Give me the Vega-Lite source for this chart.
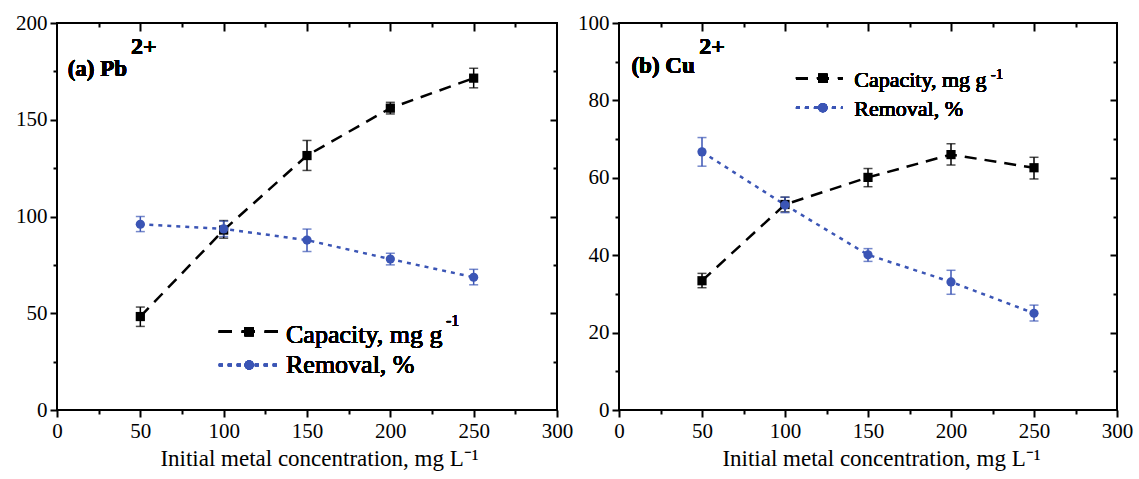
{
  "$schema": "https://vega.github.io/schema/vega-lite/v6.json",
  "background": "white",
  "padding": {"left": 14, "top": 11, "right": 2, "bottom": 2},
  "spacing": 2,
  "datasets": {
    "pb": [
      {"series": "Capacity", "conc": 50, "value": 48.3, "lo": 43.2, "hi": 53.2},
      {"series": "Capacity", "conc": 100, "value": 93.0, "lo": 88.8, "hi": 97.9},
      {"series": "Capacity", "conc": 150, "value": 131.5, "lo": 123.8, "hi": 139.3},
      {"series": "Capacity", "conc": 200, "value": 156.0, "lo": 153.0, "hi": 159.0},
      {"series": "Capacity", "conc": 250, "value": 171.5, "lo": 166.5, "hi": 176.6},
      {"series": "Removal", "conc": 50, "value": 96.0, "lo": 92.2, "hi": 100.0},
      {"series": "Removal", "conc": 100, "value": 93.6, "lo": 89.6, "hi": 97.6},
      {"series": "Removal", "conc": 150, "value": 87.8, "lo": 81.9, "hi": 93.5},
      {"series": "Removal", "conc": 200, "value": 78.0, "lo": 75.0, "hi": 81.0},
      {"series": "Removal", "conc": 250, "value": 68.6, "lo": 64.7, "hi": 72.7}
    ],
    "cu": [
      {"series": "Capacity", "conc": 50, "value": 33.4, "lo": 31.6, "hi": 35.3},
      {"series": "Capacity", "conc": 100, "value": 53.1, "lo": 51.2, "hi": 55.0},
      {"series": "Capacity", "conc": 150, "value": 60.1, "lo": 57.7, "hi": 62.4},
      {"series": "Capacity", "conc": 200, "value": 66.0, "lo": 63.3, "hi": 68.8},
      {"series": "Capacity", "conc": 250, "value": 62.6, "lo": 59.7, "hi": 65.3},
      {"series": "Removal", "conc": 50, "value": 66.7, "lo": 63.0, "hi": 70.4},
      {"series": "Removal", "conc": 100, "value": 53.0, "lo": 51.0, "hi": 55.0},
      {"series": "Removal", "conc": 150, "value": 40.1, "lo": 38.4, "hi": 41.7},
      {"series": "Removal", "conc": 200, "value": 33.1, "lo": 29.9, "hi": 36.1},
      {"series": "Removal", "conc": 250, "value": 25.0, "lo": 23.0, "hi": 27.1}
    ]
  },
  "hconcat": [
    {
      "width": 500,
      "height": 387,
      "data": {"name": "pb"},
      "resolve": {"axis": {"x": "independent", "y": "independent"}},
      "layer": [
        {
          "mark": {"type": "errorbar", "ticks": {"size": 9, "thickness": 1.5}, "rule": {"strokeWidth": 1.5}},
          "encoding": {
            "x": {"field": "conc", "type": "quantitative", "scale": {"domain": [0, 300], "nice": false},
              "axis": {"orient": "bottom", "title": "Initial metal concentration, mg L⁻¹", "values": [0,50,100,150,200,250,300], "tickSize": 7, "labelPadding": 3, "titlePadding": 6, "titleX": 262}},
            "y": {"field": "lo", "type": "quantitative", "scale": {"domain": [0, 200], "nice": false},
              "axis": {"orient": "left", "title": null, "values": [0,50,100,150,200], "tickSize": 7, "labelPadding": 3}},
            "y2": {"field": "hi"},
            "color": {"field": "series", "type": "nominal", "scale": {"domain": ["Capacity", "Removal"], "range": ["#000000", "#3b55b5"]}, "legend": null}
          }
        },
        {
          "mark": {"type": "line", "strokeWidth": 2.5},
          "encoding": {
            "x": {"field": "conc", "type": "quantitative",
              "axis": {"orient": "bottom", "title": null, "labels": false, "values": [25,75,125,175,225,275], "tickSize": 4}},
            "y": {"field": "value", "type": "quantitative",
              "axis": {"orient": "left", "title": null, "labels": false, "values": [25,75,125,175], "tickSize": 4}},
            "color": {"field": "series", "type": "nominal", "legend": null},
            "strokeDash": {"field": "series", "type": "nominal", "scale": {"domain": ["Capacity", "Removal"], "range": [[12, 8], [4, 5]]}, "legend": null}
          }
        },
        {
          "mark": {"type": "point", "filled": true, "opacity": 1, "size": 85},
          "encoding": {
            "x": {"field": "conc", "type": "quantitative",
              "axis": {"orient": "top", "title": null, "labels": false, "values": [50,100,150,200,250], "tickSize": 8, "offset": -8}},
            "y": {"field": "value", "type": "quantitative",
              "axis": {"orient": "right", "title": null, "labels": false, "values": [50,100,150], "tickSize": 7, "offset": -7}},
            "color": {"field": "series", "type": "nominal", "legend": null},
            "shape": {"field": "series", "type": "nominal", "scale": {"domain": ["Capacity", "Removal"], "range": ["square", "circle"]}, "legend": null}
          }
        },
        {
          "mark": {"type": "rule", "color": "#000000", "strokeWidth": 2.5, "strokeDash": [13, 10]},
          "encoding": {
            "x": {"datum": 97.1, "type": "quantitative",
              "axis": {"orient": "top", "title": null, "labels": false, "values": [25,75,125,175,225,275], "tickSize": 4, "offset": -4}},
            "x2": {"datum": 133.1},
            "y": {"datum": 40.5, "type": "quantitative",
              "axis": {"orient": "right", "title": null, "labels": false, "values": [25,75,125,175], "tickSize": 4, "offset": -4}}
          }
        },
        {
          "mark": {"type": "point", "shape": "square", "filled": true, "opacity": 1, "size": 85, "color": "#000000"},
          "encoding": {"x": {"datum": 115.3, "type": "quantitative", "axis": null}, "y": {"datum": 40.5, "type": "quantitative", "axis": null}}
        },
        {
          "mark": {"type": "rule", "color": "#3b55b5", "strokeWidth": 2.5, "strokeDash": [4, 5]},
          "encoding": {"x": {"datum": 97.1, "type": "quantitative", "axis": null}, "x2": {"datum": 133.1}, "y": {"datum": 23.2, "type": "quantitative", "axis": null}}
        },
        {
          "mark": {"type": "point", "shape": "circle", "filled": true, "opacity": 1, "size": 85, "color": "#3b55b5"},
          "encoding": {"x": {"datum": 115.3, "type": "quantitative", "axis": null}, "y": {"datum": 23.2, "type": "quantitative", "axis": null}}
        },
        {
          "mark": {"type": "text", "text": "Capacity, mg g", "align": "left", "baseline": "alphabetic", "fontSize": 26, "color": "#000000"},
          "encoding": {"x": {"datum": 137.4, "type": "quantitative", "axis": null}, "y": {"datum": 34.6, "type": "quantitative", "axis": null}}
        },
        {
          "mark": {"type": "text", "text": "-1", "align": "left", "baseline": "alphabetic", "fontSize": 16, "color": "#000000"},
          "encoding": {"x": {"datum": 233.4, "type": "quantitative", "axis": null}, "y": {"datum": 43.4, "type": "quantitative", "axis": null}}
        },
        {
          "mark": {"type": "text", "text": "Removal, %", "align": "left", "baseline": "alphabetic", "fontSize": 26, "color": "#000000"},
          "encoding": {"x": {"datum": 137.4, "type": "quantitative", "axis": null}, "y": {"datum": 19.3, "type": "quantitative", "axis": null}}
        },
        {
          "mark": {"type": "text", "text": "(a) Pb", "align": "left", "baseline": "alphabetic", "fontSize": 23, "fontWeight": "bold", "color": "#000000"},
          "encoding": {"x": {"datum": 6.4, "type": "quantitative", "axis": null}, "y": {"datum": 172.6, "type": "quantitative", "axis": null}}
        },
        {
          "mark": {"type": "text", "text": "2+", "align": "left", "baseline": "alphabetic", "fontSize": 24, "fontWeight": "bold", "color": "#000000"},
          "encoding": {"x": {"datum": 44.4, "type": "quantitative", "axis": null}, "y": {"datum": 184, "type": "quantitative", "axis": null}}
        }
      ]
    },
    {
      "width": 498,
      "height": 387,
      "data": {"name": "cu"},
      "resolve": {"axis": {"x": "independent", "y": "independent"}},
      "layer": [
        {
          "mark": {"type": "errorbar", "ticks": {"size": 9, "thickness": 1.5}, "rule": {"strokeWidth": 1.5}},
          "encoding": {
            "x": {"field": "conc", "type": "quantitative", "scale": {"domain": [0, 300], "nice": false},
              "axis": {"orient": "bottom", "title": "Initial metal concentration, mg L⁻¹", "values": [0,50,100,150,200,250,300], "tickSize": 7, "labelPadding": 3, "titlePadding": 6, "titleX": 262}},
            "y": {"field": "lo", "type": "quantitative", "scale": {"domain": [0, 100], "nice": false},
              "axis": {"orient": "left", "title": null, "values": [0,20,40,60,80,100], "tickSize": 7, "labelPadding": 3}},
            "y2": {"field": "hi"},
            "color": {"field": "series", "type": "nominal", "scale": {"domain": ["Capacity", "Removal"], "range": ["#000000", "#3b55b5"]}, "legend": null}
          }
        },
        {
          "mark": {"type": "line", "strokeWidth": 2.5},
          "encoding": {
            "x": {"field": "conc", "type": "quantitative",
              "axis": {"orient": "bottom", "title": null, "labels": false, "values": [25,75,125,175,225,275], "tickSize": 4}},
            "y": {"field": "value", "type": "quantitative",
              "axis": {"orient": "left", "title": null, "labels": false, "values": [10,30,50,70,90], "tickSize": 4}},
            "color": {"field": "series", "type": "nominal", "legend": null},
            "strokeDash": {"field": "series", "type": "nominal", "scale": {"domain": ["Capacity", "Removal"], "range": [[12, 8], [4, 5]]}, "legend": null}
          }
        },
        {
          "mark": {"type": "point", "filled": true, "opacity": 1, "size": 85},
          "encoding": {
            "x": {"field": "conc", "type": "quantitative",
              "axis": {"orient": "top", "title": null, "labels": false, "values": [50,100,150,200,250], "tickSize": 8, "offset": -8}},
            "y": {"field": "value", "type": "quantitative",
              "axis": {"orient": "right", "title": null, "labels": false, "values": [20,40,60,80], "tickSize": 7, "offset": -7}},
            "color": {"field": "series", "type": "nominal", "legend": null},
            "shape": {"field": "series", "type": "nominal", "scale": {"domain": ["Capacity", "Removal"], "range": ["square", "circle"]}, "legend": null}
          }
        },
        {
          "mark": {"type": "rule", "color": "#000000", "strokeWidth": 2.5, "strokeDash": [12, 9]},
          "encoding": {
            "x": {"datum": 106.6, "type": "quantitative",
              "axis": {"orient": "top", "title": null, "labels": false, "values": [25,75,125,175,225,275], "tickSize": 4, "offset": -4}},
            "x2": {"datum": 134.6},
            "y": {"datum": 85.7, "type": "quantitative",
              "axis": {"orient": "right", "title": null, "labels": false, "values": [10,30,50,70,90], "tickSize": 4, "offset": -4}}
          }
        },
        {
          "mark": {"type": "point", "shape": "square", "filled": true, "opacity": 1, "size": 85, "color": "#000000"},
          "encoding": {"x": {"datum": 122.8, "type": "quantitative", "axis": null}, "y": {"datum": 85.7, "type": "quantitative", "axis": null}}
        },
        {
          "mark": {"type": "rule", "color": "#3b55b5", "strokeWidth": 2.5, "strokeDash": [4, 5]},
          "encoding": {"x": {"datum": 106.6, "type": "quantitative", "axis": null}, "x2": {"datum": 134.6}, "y": {"datum": 78.1, "type": "quantitative", "axis": null}}
        },
        {
          "mark": {"type": "point", "shape": "circle", "filled": true, "opacity": 1, "size": 85, "color": "#3b55b5"},
          "encoding": {"x": {"datum": 122.8, "type": "quantitative", "axis": null}, "y": {"datum": 78.1, "type": "quantitative", "axis": null}}
        },
        {
          "mark": {"type": "text", "text": "Capacity, mg g", "align": "left", "baseline": "alphabetic", "fontSize": 22, "color": "#000000"},
          "encoding": {"x": {"datum": 141.7, "type": "quantitative", "axis": null}, "y": {"datum": 83.5, "type": "quantitative", "axis": null}}
        },
        {
          "mark": {"type": "text", "text": "-1", "align": "left", "baseline": "alphabetic", "fontSize": 15, "color": "#000000"},
          "encoding": {"x": {"datum": 224, "type": "quantitative", "axis": null}, "y": {"datum": 85.5, "type": "quantitative", "axis": null}}
        },
        {
          "mark": {"type": "text", "text": "Removal, %", "align": "left", "baseline": "alphabetic", "fontSize": 22, "color": "#000000"},
          "encoding": {"x": {"datum": 141.7, "type": "quantitative", "axis": null}, "y": {"datum": 76.0, "type": "quantitative", "axis": null}}
        },
        {
          "mark": {"type": "text", "text": "(b) Cu", "align": "left", "baseline": "alphabetic", "fontSize": 23, "fontWeight": "bold", "color": "#000000"},
          "encoding": {"x": {"datum": 7.5, "type": "quantitative", "axis": null}, "y": {"datum": 87.1, "type": "quantitative", "axis": null}}
        },
        {
          "mark": {"type": "text", "text": "2+", "align": "left", "baseline": "alphabetic", "fontSize": 24, "fontWeight": "bold", "color": "#000000"},
          "encoding": {"x": {"datum": 48.4, "type": "quantitative", "axis": null}, "y": {"datum": 92, "type": "quantitative", "axis": null}}
        }
      ]
    }
  ],
  "config": {
    "font": "Liberation Serif",
    "text": {"font": "Liberation Serif"},
    "view": {"stroke": "#000000", "strokeWidth": 2},
    "axis": {
      "domain": false, "grid": false, "ticks": true, "labelFlush": false,
      "labelFont": "Liberation Serif", "labelFontSize": 21, "labelColor": "#000000",
      "tickColor": "#000000", "tickWidth": 2,
      "titleFont": "Liberation Serif", "titleFontSize": 23, "titleFontWeight": "normal", "titleColor": "#000000"
    }
  }
}
